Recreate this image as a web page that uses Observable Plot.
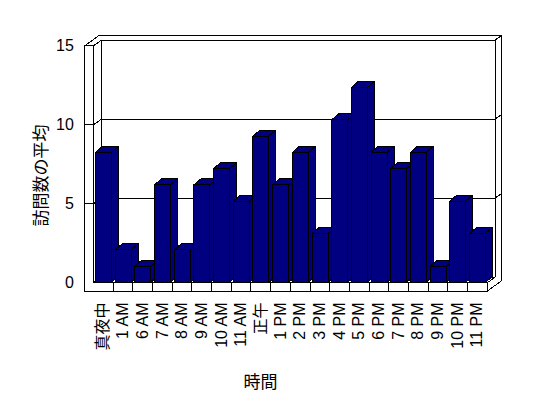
<!DOCTYPE html>
<html><head><meta charset="utf-8">
<script src="https://cdn.jsdelivr.net/npm/d3@7"></script>
<script src="https://cdn.jsdelivr.net/npm/@observablehq/plot@0.6"></script>
<style>
html,body{margin:0;padding:0;background:#fff;}
#chart{position:relative;width:548px;height:398px;overflow:hidden;}
#chart svg{position:absolute;left:0;top:0;}
</style></head><body><div id="chart"></div>
<script>
// ---- data ----
const categories = ["真夜中","1 AM","6 AM","7 AM","8 AM","9 AM","10 AM","11 AM","正午","1 PM","2 PM","3 PM","4 PM","5 PM","6 PM","7 PM","8 PM","9 PM","10 PM","11 PM"];
const visits = [8,2,1,6,2,6,7,5,9,6,8,3,10,12,8,7,8,1,5,3];
const yTicks = [0,5,10,15];
const yMax = 15;
const xTitle = "時間";
const yTitle = "訪問数の平均";

// ---- layout ----
const W = 548, H = 398;
const N = categories.length;
const latin = '"Liberation Sans", Arial, "Noto Sans CJK JP", sans-serif';
const cjk = '"Noto Sans CJK JP", sans-serif';
const navy = "#000080";
const xRange = [93, 486.7];
const yFront = [282.3, 45.3];
const yBar = [282.3, 38.6];
const depth = [8, -5.7];
const wallT = [6.7, -5];
const floorT = 8.4;
const leftT = 8.7;
const barInset = [2.5, 1.2];
const barDepth = [7, -6];

const sx = Plot.scale({x: {type: "linear", domain: [0, N], range: xRange}});
const sy = Plot.scale({y: {type: "linear", domain: [0, yMax], range: yFront}});
const P = (x, y, ox = 0, oy = 0) => [sx.invert(sx.apply(x) + ox), sy.invert(sy.apply(y) + oy)];

const lines = [];
let sid = 0;
function seg(pts) { sid++; for (const [x, y] of pts) lines.push({id: sid, x, y}); }
const dW = [depth[0] + wallT[0], depth[1] + wallT[1]];
// outer silhouette
seg([P(0,0,-leftT,floorT), P(0,yMax,-leftT,0), P(0,yMax,-leftT+dW[0],dW[1]), P(N,yMax,dW[0],dW[1]), P(N,0,dW[0],floorT+dW[1]), P(N,0,0,floorT), P(0,0,-leftT,floorT)]);
// top edges
seg([P(0,yMax,-leftT,0), P(0,yMax), P(0,yMax,depth[0],depth[1]), P(N,yMax,depth[0],depth[1]), P(N,yMax,dW[0],dW[1])]);
// left wall inner front edge
seg([P(0,0), P(0,yMax)]);
// back wall right edge + floor
seg([P(N,yMax,depth[0],depth[1]), P(N,0,depth[0],depth[1]), P(N,0), P(0,0)]);
seg([P(N,0), P(N,0,0,floorT)]);
// back wall left edge, floor back edge
seg([P(0,yMax,depth[0],depth[1]), P(0,0,depth[0],depth[1]), P(N,0,depth[0],depth[1])]);
seg([P(0,0), P(0,0,depth[0],depth[1])]);
// gridlines
for (const v of yTicks) if (v > 0 && v < yMax)
  seg([P(0,v,-leftT,0), P(0,v), P(0,v,depth[0],depth[1]), P(N,v,depth[0],depth[1]), P(N,v,dW[0],dW[1])]);
// category dividers
for (let k = 1; k < N; k++) seg([P(k,0), P(k,0,0,floorT)]);

const frame = Plot.plot({
  width: W, height: H, margin: 0,
  style: "background: transparent; shape-rendering: crispEdges;",
  x: {type: "linear", domain: [0, N], range: xRange, axis: null},
  y: {type: "linear", domain: [0, yMax], range: yFront, axis: null},
  marks: [
    Plot.line(lines, {x: "x", y: "y", z: "id", stroke: "black", strokeWidth: 1}),
    Plot.text(yTicks, {x: 0, y: d => d, dx: -leftT - 11, textAnchor: "end", fontSize: 16, fontFamily: latin, text: d => String(d)}),
    Plot.text(categories, {x: (d, i) => i + 0.5, y: 0, dy: floorT + 11.3, rotate: -90, textAnchor: "end", fontSize: 16, fontFamily: latin, text: d => d}),
    Plot.text([xTitle], {frameAnchor: "top-left", dx: 260, dy: 375, textAnchor: "middle", fontSize: 17, fontFamily: cjk, text: d => d}),
    Plot.text([yTitle], {frameAnchor: "top-left", dx: 34, dy: 175, rotate: -90, textAnchor: "middle", fontSize: 17, fontFamily: cjk, text: d => d})
  ]
});

// ---- bars ----
const kx = (xRange[1] - xRange[0]) / N;
const kyB = (yBar[0] - yBar[1]) / yMax;
const ddx = barDepth[0] / kx, ddy = -barDepth[1] / kyB;
const sideRows = [], topRows = [];
visits.forEach((v, i) => {
  const xl = i + barInset[0] / kx, xr = i + 1 - barInset[1] / kx;
  sideRows.push({i, x: xr, y1: 0, y2: v}, {i, x: xr + ddx, y1: ddy, y2: v + ddy});
  topRows.push({i, y: v, x1: xl, x2: xr}, {i, y: v + ddy, x1: xl + ddx, x2: xr + ddx});
});

const bars = Plot.plot({
  width: W, height: H, margin: 0,
  style: "background: transparent; shape-rendering: crispEdges;",
  x: {type: "linear", domain: [0, N], range: xRange, axis: null},
  y: {type: "linear", domain: [0, yMax], range: yBar, axis: null},
  marks: [
    Plot.areaY(sideRows, {x: "x", y1: "y1", y2: "y2", z: "i", fill: navy, stroke: "black", strokeWidth: 1}),
    Plot.areaX(topRows, {y: "y", x1: "x1", x2: "x2", z: "i", fill: navy, stroke: "black", strokeWidth: 1}),
    Plot.rectY(visits, {x1: (d, i) => i, x2: (d, i) => i + 1, y1: 0, y2: d => d, insetLeft: barInset[0], insetRight: barInset[1], fill: navy, stroke: "black", strokeWidth: 1})
  ]
});

const root = document.getElementById("chart");
root.appendChild(frame);
root.appendChild(bars);
</script></body></html>
